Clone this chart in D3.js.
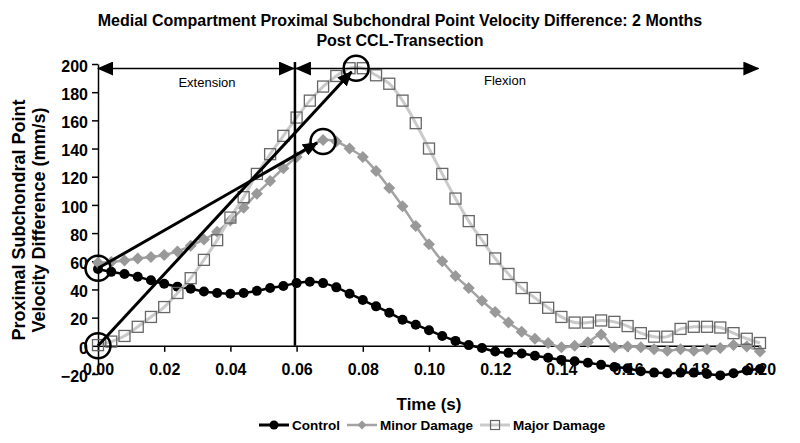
<!DOCTYPE html>
<html><head><meta charset="utf-8">
<script src="https://cdn.jsdelivr.net/npm/d3@7/dist/d3.min.js"></script>
<style>
body{margin:0;background:#fff}
text{font-family:"Liberation Sans",Arial,Helvetica,sans-serif}
</style>
</head><body>
<svg id="c" width="800" height="443"></svg>
<script>
// ---------- data ----------
const times = [0.000,0.004,0.008,0.012,0.016,0.020,0.024,0.028,0.032,0.036,
  0.040,0.044,0.048,0.052,0.056,0.060,0.064,0.068,0.072,0.076,
  0.080,0.084,0.088,0.092,0.096,0.100,0.104,0.108,0.112,0.116,
  0.120,0.124,0.128,0.132,0.136,0.140,0.144,0.148,0.152,0.156,
  0.160,0.164,0.168,0.172,0.176,0.180,0.184,0.188,0.192,0.196,0.200];
const control = [54.5,52.5,51,49,46.5,44,42,40.5,38.5,37.5,
  37,37.5,39,41,42.5,44.5,45.5,44.5,41.5,37,
  32.5,28,23.5,18.5,15,11,7,3.5,0.5,-1.5,
  -4,-5,-5.5,-7,-8.5,-10,-11,-12,-13.5,-15,
  -16,-18,-19,-19.5,-19,-19,-20,-21,-19.5,-17.5,-16.5];
const minor = [59,59.5,60.5,62,63,64.5,67,71,75.5,81,
  89,98,108,117,126,134,141,146,145,140,
  134,124,112,99,85,72,60,49.5,41,32,
  24,16.5,10,5,2,-1,0,2.5,8,-1,
  -0.5,-1,-2.5,-3.5,-2.5,-3.5,-2.5,-1.5,0.5,-0.5,-4];
const major = [0.5,3,7,13.5,20.5,27.5,37.5,48,61,75,
  91,105.5,122,136,149,162,174,184,191.5,197,
  197,192,186,174,158,140,122,104.5,88.5,75,
  62,51,41,34,27,20.5,16.5,16.5,18,17,
  14,9,6.5,6.5,12,13.5,13.5,13,9,5,2];
const seriesNames = ["Control","Minor Damage","Major Damage"];
const xTicks = [0,0.02,0.04,0.06,0.08,0.10,0.12,0.14,0.16,0.18,0.20];
const yTicks = [-20,0,20,40,60,80,100,120,140,160,180,200];
const titleLines = ["Medial Compartment Proximal Subchondral Point Velocity Difference: 2 Months","Post CCL-Transection"];
const xTitle = "Time (s)";
const yTitleLines = ["Proximal Subchondral Point","Velocity Difference (mm/s)"];
const phaseNames = ["Extension","Flexion"];
// annotation anchors (data units)
const phaseBoundary = 0.0595;
const annCircles = [[0,55],[0,0],[0.068,145],[0.078,197]];
const annArrows = [[[0,55],[0.0662,144]],[[0,0],[0.0766,194.5]]];

// ---------- layout ----------
const svg = d3.select("#c");
const x = d3.scaleLinear().domain([0,0.2]).range([98,760]);
const y = d3.scaleLinear().domain([-20,200]).range([374,64]);

const defs = svg.append("defs");
defs.append("marker").attr("id","ah").attr("viewBox","0 0 16 14")
  .attr("refX",15).attr("refY",7).attr("markerWidth",16).attr("markerHeight",14)
  .attr("markerUnits","userSpaceOnUse").attr("orient","auto-start-reverse")
  .append("path").attr("d","M0,0L16,7L0,14Z").attr("fill","#000");
defs.append("marker").attr("id","ah2").attr("viewBox","0 0 15 13")
  .attr("refX",14).attr("refY",6.5).attr("markerWidth",15).attr("markerHeight",13)
  .attr("markerUnits","userSpaceOnUse").attr("orient","auto")
  .append("path").attr("d","M0,0L15,6.5L0,13Z").attr("fill","#000");

// title
svg.append("text").attr("x",400).attr("y",26).attr("text-anchor","middle")
  .attr("font-size",16).attr("font-weight","bold").text(titleLines[0]);
svg.append("text").attr("x",400).attr("y",46).attr("text-anchor","middle")
  .attr("font-size",16).attr("font-weight","bold").text(titleLines[1]);

// axes
const yAxis = svg.append("g").attr("transform","translate(98,0)")
  .call(d3.axisLeft(y).tickValues(yTicks).tickSize(6).tickSizeOuter(0).tickPadding(4).tickFormat(d3.format("d")));
yAxis.selectAll("text").attr("font-size",16).attr("font-weight","bold").attr("font-family",null).attr("dy","0.45em").attr("fill","#000");
yAxis.selectAll("line,path").attr("stroke","#000").attr("stroke-width",1.5);

const xAxis = svg.append("g").attr("transform",`translate(0,${y(0)})`)
  .call(d3.axisBottom(x).tickValues(xTicks).tickSize(6).tickSizeOuter(0).tickPadding(12).tickFormat(d3.format(".2f")));
xAxis.selectAll("text").attr("font-size",16).attr("font-weight","bold").attr("font-family",null).attr("fill","#000");
xAxis.selectAll("line,path").attr("stroke","#000").attr("stroke-width",1.5);

// axis titles
svg.append("text").attr("x",429).attr("y",410).attr("text-anchor","middle")
  .attr("font-size",17).attr("font-weight","bold").text(xTitle);
yTitleLines.forEach((t,i)=>{
  svg.append("text").attr("transform",`translate(${25+i*20},220) rotate(-90)`)
    .attr("text-anchor","middle").attr("font-size",18).attr("font-weight","bold").text(t);
});

// series
const pts = arr => times.map((t,i)=>[t,arr[i]]);
const line = d3.line().x(d=>x(d[0])).y(d=>y(d[1])).curve(d3.curveCatmullRom.alpha(0.5));
const diamond = s => `M0,${-s}L${s},0L0,${s}L${-s},0Z`;

function drawControl(g, data){
  g.append("path").attr("d",line(data)).attr("fill","none").attr("stroke","#000").attr("stroke-width",2.5);
  g.selectAll("circle").data(data).join("circle").attr("cx",d=>x(d[0])).attr("cy",d=>y(d[1])).attr("r",5).attr("fill","#000");
}
function drawMinor(g, data){
  g.append("path").attr("d",line(data)).attr("fill","none").attr("stroke","#a3a3a3").attr("stroke-width",2.5);
  g.selectAll("path.m").data(data).join("path").attr("class","m")
    .attr("transform",d=>`translate(${x(d[0])},${y(d[1])})`).attr("d",diamond(6)).attr("fill","#999");
}
function drawMajor(g, data){
  g.append("path").attr("d",line(data)).attr("fill","none").attr("stroke","#cacaca").attr("stroke-width",3);
  g.selectAll("rect").data(data).join("rect").attr("x",d=>x(d[0])-5.5).attr("y",d=>y(d[1])-5.5)
    .attr("width",11).attr("height",11).attr("fill","none").attr("stroke","#666").attr("stroke-width",1.3);
}
drawControl(svg.append("g"), pts(control));
drawMinor(svg.append("g"), pts(minor));
drawMajor(svg.append("g"), pts(major));

// annotations
const ay = y(196.8);
svg.append("line").attr("x1",x(phaseBoundary)).attr("x2",x(phaseBoundary)).attr("y1",62).attr("y2",y(0))
  .attr("stroke","#000").attr("stroke-width",2.5);
svg.append("line").attr("x1",x(0)).attr("x2",x(phaseBoundary)-1).attr("y1",ay).attr("y2",ay)
  .attr("stroke","#000").attr("stroke-width",1.5).attr("marker-start","url(#ah)").attr("marker-end","url(#ah)");
svg.append("line").attr("x1",x(phaseBoundary)+1).attr("x2",x(0.1995)).attr("y1",ay).attr("y2",ay)
  .attr("stroke","#000").attr("stroke-width",1.5).attr("marker-start","url(#ah)").attr("marker-end","url(#ah)");
svg.append("text").attr("x",207).attr("y",87).attr("text-anchor","middle").attr("font-size",13).text(phaseNames[0]);
svg.append("text").attr("x",505).attr("y",85).attr("text-anchor","middle").attr("font-size",13).text(phaseNames[1]);

annArrows.forEach(a=>{
  svg.append("line").attr("x1",x(a[0][0])).attr("y1",y(a[0][1])).attr("x2",x(a[1][0])).attr("y2",y(a[1][1]))
    .attr("stroke","#000").attr("stroke-width",3).attr("marker-end","url(#ah2)");
});
annCircles.forEach(c=>{
  svg.append("circle").attr("cx",x(c[0])).attr("cy",y(c[1])).attr("r",12.5)
    .attr("fill","none").attr("stroke","#000").attr("stroke-width",2.5);
});

// legend
const lg = svg.append("g").attr("transform","translate(0,425)");
let lx = 259;
const drawers = [
  (g,cx)=>{g.append("line").attr("x1",cx-15).attr("x2",cx+15).attr("stroke","#000").attr("stroke-width",3);
           g.append("circle").attr("cx",cx).attr("r",4.5).attr("fill","#000");},
  (g,cx)=>{g.append("line").attr("x1",cx-15).attr("x2",cx+15).attr("stroke","#a3a3a3").attr("stroke-width",2.5);
           g.append("path").attr("transform",`translate(${cx},0)`).attr("d",diamond(4.5)).attr("fill","#999");},
  (g,cx)=>{g.append("line").attr("x1",cx-15).attr("x2",cx+15).attr("stroke","#cacaca").attr("stroke-width",3);
           g.append("rect").attr("x",cx-4.5).attr("y",-4.5).attr("width",9).attr("height",9).attr("fill","none").attr("stroke","#666").attr("stroke-width",1.2);}
];
seriesNames.forEach((n,i)=>{
  const g = lg.append("g");
  drawers[i](g, lx+15);
  const t = g.append("text").attr("x",lx+33).attr("y",5).attr("font-size",13.5).attr("font-weight","bold").text(n);
  lx = lx + 33 + t.node().getComputedTextLength() + 7;
});
</script>
</body></html>
